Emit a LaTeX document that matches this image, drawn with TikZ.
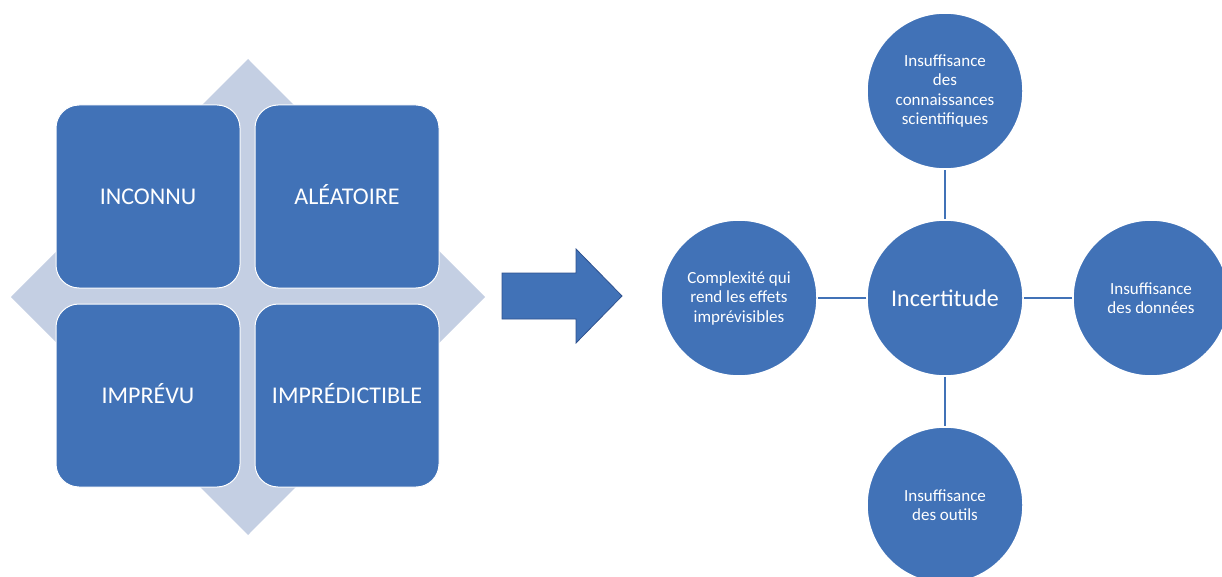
\documentclass[tikz,border=0pt]{standalone}
\usepackage{fontspec}
\setmainfont{Carlito}
\usetikzlibrary{positioning}
\definecolor{boxblue}{RGB}{65,114,183}
\definecolor{paleblue}{RGB}{196,207,227}
\definecolor{edgeblue}{RGB}{47,82,143}

\begin{document}
\begin{tikzpicture}[x=1pt,y=-1pt]
  \tikzset{quad/.style = {shape=rectangle,rounded corners=23pt,fill=boxblue,draw=white,line width=1pt,minimum width=184pt,minimum height=183pt,text height=16pt,text depth=0pt,text=white,font=\fontsize{24}{29}\selectfont}}
  \tikzset{bubble/.style = {shape=circle,fill=boxblue,draw=white,line width=1.5pt,minimum size=156pt,inner sep=0pt,text=white,align=center,font=\fontsize{17}{19.5}\selectfont}}
  \tikzset{link/.style = {draw=boxblue,line width=2pt}}

  \useasboundingbox (0,0) rectangle (1222,577);
  \clip (0,0) rectangle (1222,577);

  % left part
  \fill[paleblue] (248,59) -- (485,297) -- (248,535) -- (11,297) -- cycle;
	\node[quad] (I) at (148,196.5) {INCONNU};
	\node[quad] (A) at (347,196.5) {ALÉATOIRE};
	\node[quad] (P) at (148,395.5) {IMPRÉVU};
	\node[quad] (D) at (347,395.5) {IMPRÉDICTIBLE};

  % arrow
  \filldraw[fill=boxblue,draw=edgeblue,line width=0.8pt]
    (502,273) -- (576,273) -- (576,249) -- (622,296) -- (576,343) -- (576,319) -- (502,319) -- cycle;

  % right part
	\node[bubble,font=\fontsize{24}{29}\selectfont] (inc) at (945,298) {Incertitude};
	\node[bubble] (kn) at (945,91) {Insuffisance\\des\\connaissances\\scientifiques};
	\node[bubble] (cplx) at (739,298) {Complexité qui\\rend les effets\\imprévisibles};
	\node[bubble] (data) at (1151,298) {Insuffisance\\des données};
	\node[bubble] (tools) at (945,505) {Insuffisance\\des outils};

       \foreach \to in {kn, cplx, data, tools}
    \path[link] (inc) -- (\to);
\end{tikzpicture}
\end{document}
